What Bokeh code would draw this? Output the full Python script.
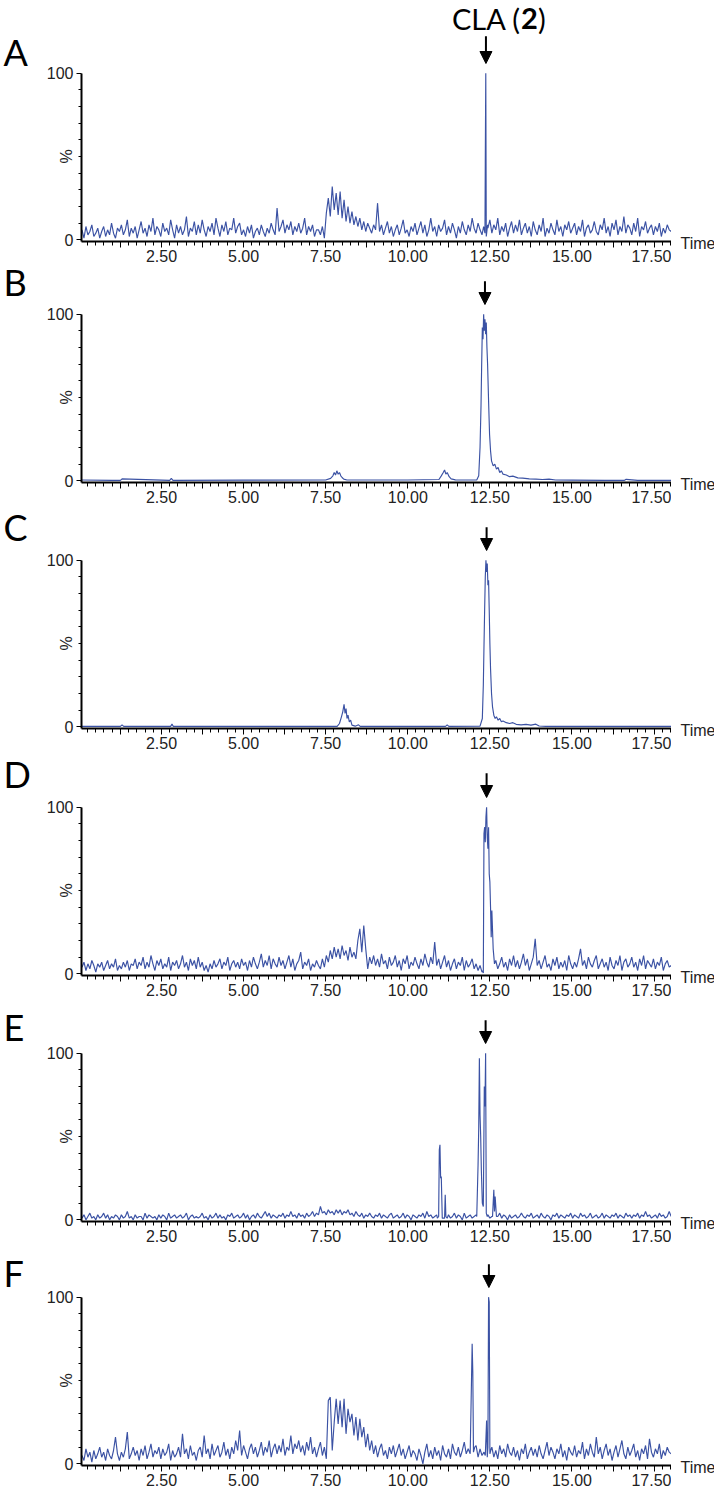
from bokeh.plotting import figure
from bokeh.layouts import column, row
from bokeh.models import Range1d, FixedTicker, Label, Arrow, NormalHead
from bokeh.embed import file_html
from bokeh.resources import INLINE

# ---------------- data ----------------
T0, DT = 0.08, 0.06          # sampling of the noisy traces (min)

A_noise = [6,1,8,3,5,9,2,4,7,1, 5,8,2,6,3,10,4,1,7,5, 9,3,6,12,2,7,4,8,1,6,
           11,4,7,2,9,5,13,3,8,6, 2,10,5,7,3,12,6,1,9,4, 8,3,6,14,2,7,5,11,3,9,
           4,12,6,2,8,5,10,3,13,7, 2,9,5,11,3,7,6,13,4,8, 10,3,6,2,8,4,9,1,5,7,
           3,9,5,2,7,4,10,6,3,19, 5,8,12,4,9,6,11,3,8,5, 10,4,7,13,3,8,5,9,2,6,
           6,3,8,1,16,25,14,32,18,28, 15,29,13,24,11,20,10,17,9,14, 8,13,6,11,5,10,7,4,9,6,
           22,5,9,3,7,11,4,8,2,6, 9,3,7,12,4,6,2,8,5,10, 3,7,11,4,9,2,6,13,5,8,
           2,9,5,7,12,3,8,4,10,6, 1,8,4,11,6,3,9,5,13,7, 4,10,6,3,8,5,7,12,4,9,
           6,13,3,8,5,10,2,7,11,4, 9,5,12,3,7,10,4,8,2,11, 6,3,9,5,13,2,7,4,10,6,
           3,12,5,8,2,9,6,11,4,7, 10,3,8,5,12,2,7,9,4,6, 11,5,3,9,6,13,4,8,2,10,
           6,12,3,8,5,14,4,9,7,3, 10,5,13,2,8,6,11,4,7,9, 3,8,5,10,2,7,4,9,6,5]
A_peaks = [([12.31, 12.35, 12.36, 12.375, 12.39, 12.43], [8, 4, 46, 100, 2, 9])]

B_time = [0.08, 1.0, 1.25, 1.3, 2.75, 2.8, 2.85, 5.0, 7.5, 7.65, 7.72, 7.76, 7.8, 7.84, 7.88,
          7.92, 7.96, 8.0, 8.05, 8.15, 10.0, 10.95, 11.02, 11.08, 11.12, 11.16, 11.2, 11.26,
          11.32, 11.45, 12.1, 12.16, 12.2, 12.23, 12.25, 12.27, 12.29, 12.31, 12.33, 12.35,
          12.37, 12.39, 12.41, 12.43, 12.46, 12.49, 12.52, 12.55, 12.6, 12.65, 12.7, 12.75,
          12.8, 12.85, 12.9, 13.0, 13.1, 13.2, 13.35, 13.5, 13.7, 13.9, 14.1, 14.3, 14.5,
          15.0, 16.0, 16.6, 16.65, 17.0, 18.02]
B_int = [0.5, 0.3, 0.3, 1.2, 0.3, 1.5, 0.3, 0.4, 0.5, 1.5, 3, 5, 3.5, 6, 4,
         5, 3, 2, 1, 0.5, 0.5, 0.8, 3, 5, 6.5, 4, 5, 2.5,
         1.2, 0.6, 0.5, 3, 20, 45, 70, 92, 85, 100, 90, 97,
         88, 95, 80, 70, 48, 28, 18, 12, 9, 10, 7, 8,
         5, 6, 4, 3.5, 2.5, 2.8, 1.8, 1.6, 1.2, 1.0, 0.8, 1.0, 0.5,
         0.4, 0.3, 0.3, 0.9, 0.3, 0.3]

C_time = [0.08, 1.25, 1.3, 1.35, 2.78, 2.82, 2.86, 7.85, 7.92, 7.98, 8.02, 8.06, 8.09, 8.12,
          8.15, 8.18, 8.22, 8.26, 8.3, 8.4, 8.5, 8.55, 11.15, 11.2, 11.25, 12.2, 12.27, 12.3,
          12.32, 12.34, 12.36, 12.38, 12.4, 12.42, 12.44, 12.46, 12.48, 12.5, 12.52, 12.55,
          12.58, 12.62, 12.66, 12.7, 12.75, 12.8, 12.85, 12.9, 13.0, 13.1, 13.2, 13.3, 13.45,
          13.6, 13.75, 13.9, 14.0, 14.2, 18.02]
C_int = [0.3, 0.3, 1.2, 0.3, 0.3, 1.6, 0.3, 0.3, 2, 6, 9, 13.5, 8, 11,
         5, 7, 3, 4, 1, 0.4, 1.2, 0.3, 0.3, 1.2, 0.3, 0.4, 5, 25,
         48, 70, 90, 100, 93, 98, 85, 88, 70, 50, 35, 20,
         12, 7, 5, 6, 4, 5, 3, 3.5, 2.5, 2, 2.5, 1.5, 1.2,
         1.5, 1.0, 1.6, 0.5, 0.3, 0.3]

D_noise = [4,7,2,6,3,8,5,1,6,4, 7,2,5,8,3,6,4,9,2,5, 3,7,4,8,2,6,5,9,3,7,
           5,10,3,7,4,11,6,2,8,5, 9,3,6,4,10,2,7,5,8,3, 6,11,4,7,2,9,5,8,3,10,
           4,7,2,5,1,6,3,8,4,6, 9,3,7,5,10,2,6,8,4,7, 3,9,5,7,2,8,4,10,6,3,
           7,12,4,8,5,11,3,9,6,4, 10,5,8,3,7,11,4,9,2,6, 8,13,3,7,5,9,2,6,4,8,
           5,3,9,4,11,7,14,9,16,10, 15,9,17,11,14,8,16,10,13,9, 20,27,13,29,15,3,10,6,11,5,
           9,4,12,6,8,3,10,5,7,11, 4,8,2,9,6,11,3,7,5,10, 6,3,9,5,12,7,4,10,6,19,
           5,9,3,7,11,4,8,2,6,9, 3,7,5,10,2,8,4,6,9,3, 6,2,5,1,8,4,7,3,9,5,
           8,3,6,10,4,7,2,9,5,11, 4,8,3,7,12,5,9,2,6,10, 21,5,8,3,7,11,4,6,2,9,
           5,10,3,7,4,8,2,11,6,3, 7,4,9,15,5,8,3,10,6,4, 8,11,3,6,9,4,7,2,10,5,
           3,8,5,11,2,7,9,4,6,10, 4,7,2,9,5,11,3,8,6,4, 9,3,7,5,10,2,6,8,4,5]
D_peaks = [([12.27, 12.30, 12.32, 12.34, 12.36, 12.38, 12.40, 12.42, 12.44, 12.46, 12.48,
             12.50, 12.52, 12.54, 12.56, 12.60, 12.64],
            [2, 0.5, 84, 88, 79, 94, 100, 82, 75, 88, 60, 55, 40, 22, 38, 15, 6])]

E_noise = [1,3,0,2,4,1,2,0,3,1, 2,4,1,3,0,2,1,3,2,0, 3,1,2,5,1,2,0,3,1,2,
           2,0,4,1,3,2,1,2,0,3, 1,3,2,0,4,1,2,3,1,2, 3,1,2,4,0,2,3,1,2,1,
           2,4,1,2,0,3,1,2,4,1, 3,1,2,0,3,2,4,1,2,3, 1,2,4,1,3,0,2,3,1,4,
           2,1,3,5,2,4,1,3,2,1, 3,2,4,1,3,2,5,2,3,1, 4,2,3,1,4,2,3,5,2,4,
           3,8,4,5,3,6,4,5,3,6, 4,6,3,5,4,6,3,4,2,5, 3,2,4,1,3,2,4,2,1,3,
           2,4,1,3,2,1,3,4,1,2, 3,1,2,4,1,3,2,0,3,2, 1,3,2,4,1,5,2,3,1,2,
           3,1,2,4,1,2,3,1,2,4, 1,3,2,0,4,1,2,3,1,2, 3,1,2,4,1,2,3,1,2,3,
           1,2,4,1,3,2,0,3,1,2, 3,1,2,4,2,1,3,2,4,1, 2,3,1,4,2,1,3,2,0,3,
           2,4,1,3,2,1,3,2,4,1, 3,2,1,4,2,3,1,2,4,1, 2,3,1,2,4,1,3,2,1,3,
           2,4,1,3,2,1,4,2,3,1, 3,2,4,1,3,2,5,2,3,1, 2,3,1,4,2,3,1,2,5,2]
E_peaks = [([10.90, 10.94, 10.96, 10.98, 11.00, 11.02, 11.05, 11.12, 11.14, 11.16, 11.20],
            [1, 2, 42, 45, 25, 26, 1, 1, 15, 2, 1]),
           ([12.10, 12.14, 12.16, 12.18, 12.20, 12.22, 12.24, 12.27, 12.30, 12.33, 12.35,
             12.37, 12.39, 12.42],
            [2, 33, 55, 97, 63, 50, 30, 10, 8, 80, 68, 100, 4, 2]),
           ([12.58, 12.62, 12.64, 12.66, 12.70], [2, 18, 5, 14, 2])]

F_noise = [5,2,9,4,7,1,8,3,6,10, 4,7,2,9,5,3,8,16,6,2, 7,4,9,19,3,6,10,5,8,2,
           9,5,11,3,7,12,4,8,6,10, 3,9,5,7,12,2,8,4,6,10, 4,18,6,9,3,11,5,7,2,8,
           10,4,17,6,9,3,12,5,8,11, 4,7,13,5,9,3,10,6,14,8, 20,5,11,7,3,9,12,6,10,4,
           8,13,5,10,7,14,4,9,12,6, 11,7,15,5,10,8,17,6,12,9, 14,7,11,5,13,8,16,6,10,4,
           9,13,5,10,3,38,40,8,25,39, 24,38,22,39,18,33,25,30,17,28, 14,27,16,22,10,18,8,14,6,11,
           4,9,12,5,8,3,10,6,11,4, 8,12,5,9,3,7,11,4,8,6, 2,9,5,0,7,12,4,8,3,10,
           5,8,2,11,6,4,9,3,12,7, 5,10,4,8,13,6,9,8,5,6, 11,4,9,5,7,3,12,6,10,4,
           8,3,11,6,9,4,12,7,5,10, 4,8,2,9,6,12,3,7,10,5, 9,4,11,6,3,8,13,5,10,7,
           3,9,6,12,4,8,2,10,7,5, 11,4,8,6,13,3,9,5,12,7, 4,16,6,10,3,8,12,5,9,2,
           7,11,4,9,14,6,3,10,5,8, 12,4,8,2,9,6,11,3,15,7, 4,9,6,12,3,8,5,10,7,6]
F_peaks = [([11.90, 11.96, 11.98, 12.00, 12.04], [6, 72, 55, 7, 10]),
           ([12.36, 12.40, 12.42, 12.44, 12.46, 12.48, 12.50, 12.54], [5, 26, 4, 10, 100, 97, 6, 9])]

panel_letters = ["A", "B", "C", "D", "E", "F"]
arrow_times = [12.38, 12.35, 12.40, 12.40, 12.37, 12.47]
x_major = [1.25 * k for k in range(1, 15)]
x_minor = [0.25 * k for k in range(1, 73)]
y_major = [0, 100]
y_minor = [10, 20, 30, 40, 50, 60, 70, 80, 90]


def merge(noise, peaks):
    pts = [(T0 + DT * i, v) for i, v in enumerate(noise)]
    for st, sy in peaks:
        lo, hi = st[0], st[-1]
        pts = [p for p in pts if p[0] < lo or p[0] > hi]
        pts += list(zip(st, sy))
    pts.sort()
    return [p[0] for p in pts], [p[1] for p in pts]


traces = [merge(A_noise, A_peaks), (B_time, B_int), (C_time, C_int),
          merge(D_noise, D_peaks), merge(E_noise, E_peaks), merge(F_noise, F_peaks)]

# ---------------- layout ----------------
X0, X1 = 0.065, 18.03
Y0, Y1 = -1, 101
LEFT_W = 35                          # strip holding the panel letters
FRAME_L, FRAME_W = 81, 590           # page x of frame left edge, frame width
BORDER_L = FRAME_L - LEFT_W
MID_W = BORDER_L + FRAME_W           # width of header / panel figures
RIGHT_W = 43                         # strip holding "Time"
FRAME_H = 170
PX = FRAME_H / (Y1 - Y0)             # px per % unit
P_TOP, P_BOT = 7, 26
PANEL_H = P_TOP + FRAME_H + P_BOT
headers_h = [64, 38, 43, 44, 43, 41]
TOTAL_H = sum(headers_h) + 6 * PANEL_H
D0 = P_TOP + (Y1 - 100) * PX         # header bottom -> 100 line (px)
LINE = "#3B52A4"
TXT = "#222222"
AX_FONT = "Liberation Sans"
AX_SIZE = "16px"

letter_mid = [21.5, 32, 33, 33, 26, 24]    # letter anchor (middle), px above 100 line
arrow_top = [37, 33, 33, 34, 33, 33]       # arrow tail, px above 100 line
arrow_tip = D0 + 1

labels_x = {v: (f"{v:.2f}" if abs(v / 2.5 - round(v / 2.5)) < 1e-9 else "") for v in x_major}


def bare(f):
    f.outline_line_color = None
    f.xgrid.visible = False
    f.ygrid.visible = False
    return f


def strip(width):
    return bare(figure(width=width, height=TOTAL_H, output_backend="svg", toolbar_location=None,
                       x_range=Range1d(0, width), y_range=Range1d(TOTAL_H, 0),
                       x_axis_type=None, y_axis_type=None,
                       min_border_left=0, min_border_right=0,
                       min_border_top=0, min_border_bottom=0))


left = strip(LEFT_W)
right = strip(RIGHT_W)

items = []
page_y = 0
for k, (t, y) in enumerate(traces):
    hh = headers_h[k]
    line100 = page_y + hh + D0                 # page y of the 100 % line
    axis_y = line100 + (100 - Y0) * PX         # page y of the time axis

    # ---- header strip (same frame as the panel below): arrow and compound name ----
    hd = bare(figure(width=MID_W, height=hh, output_backend="svg", toolbar_location=None,
                     x_range=Range1d(X0, X1), y_range=Range1d(0, hh),
                     x_axis_type=None, y_axis_type=None,
                     min_border_left=BORDER_L, min_border_right=0,
                     min_border_top=0, min_border_bottom=0))
    hd.add_layout(Arrow(end=NormalHead(size=12, fill_color="black", line_color="black"),
                        x_start=arrow_times[k], y_start=arrow_top[k] - D0,
                        x_end=arrow_times[k], y_end=arrow_tip - D0,
                        line_color="black", line_width=2))
    if k == 0:
        ym = hh - 17.5                    # text middle 17.5 px below page top
        xt = arrow_times[k]
        for txt, off, align, style in [("CLA (", 35, "right", "normal"),
                                       ("2", 35, "left", "bold"),
                                       (")", 52, "left", "normal")]:
            hd.add_layout(Label(x=xt, x_offset=off, y=ym, text=txt,
                                text_align=align, text_baseline="middle",
                                text_font="Lato", text_font_style=style,
                                text_font_size="29px", text_color="black"))
    items.append(hd)

    # ---- chromatogram panel ----
    p = bare(figure(width=MID_W, height=PANEL_H, output_backend="svg",
                    toolbar_location=None, x_range=Range1d(X0, X1), y_range=Range1d(Y0, Y1),
                    min_border_left=BORDER_L, min_border_right=0,
                    min_border_top=P_TOP, min_border_bottom=P_BOT))
    p.line(t, y, line_color=LINE, line_width=1.15)

    xa = p.xaxis[0]
    xa.ticker = FixedTicker(ticks=x_major, minor_ticks=x_minor)
    xa.major_label_overrides = labels_x
    xa.axis_line_width = 2
    xa.axis_line_color = "black"
    xa.major_tick_in = 0
    xa.major_tick_out = 6
    xa.minor_tick_in = 0
    xa.minor_tick_out = 4
    xa.major_tick_line_color = "black"
    xa.minor_tick_line_color = "black"
    xa.major_label_standoff = 2
    xa.major_label_text_font = AX_FONT
    xa.major_label_text_font_size = AX_SIZE
    xa.major_label_text_color = TXT

    ya = p.yaxis[0]
    ya.bounds = (Y0, 100)
    ya.ticker = FixedTicker(ticks=y_major, minor_ticks=y_minor)
    ya.axis_line_width = 2
    ya.axis_line_color = "black"
    ya.major_tick_in = 0
    ya.major_tick_out = 5
    ya.minor_tick_in = 0
    ya.minor_tick_out = 3
    ya.major_tick_line_color = "black"
    ya.minor_tick_line_color = "black"
    ya.major_label_standoff = 3
    ya.major_label_text_font = AX_FONT
    ya.major_label_text_font_size = AX_SIZE
    ya.major_label_text_color = TXT
    ya.axis_label = "%"
    ya.axis_label_standoff = -31
    ya.axis_label_text_font = AX_FONT
    ya.axis_label_text_font_size = AX_SIZE
    ya.axis_label_text_font_style = "normal"
    ya.axis_label_text_color = TXT
    items.append(p)

    # ---- panel letter (left strip) and "Time" (right strip), page pixels ----
    left.add_layout(Label(x=3, y=line100 - letter_mid[k], text=panel_letters[k],
                          text_align="left", text_baseline="middle",
                          text_font="Lato", text_font_size="36px", text_color="black"))
    right.add_layout(Label(x=9, y=axis_y + 2, text="Time",
                           text_align="left", text_baseline="middle",
                           text_font=AX_FONT, text_font_size=AX_SIZE, text_color=TXT))
    page_y += hh + PANEL_H

layout = row(left, column(*items, spacing=0), right, spacing=0)
open("out.html", "w").write(file_html(layout, INLINE))
